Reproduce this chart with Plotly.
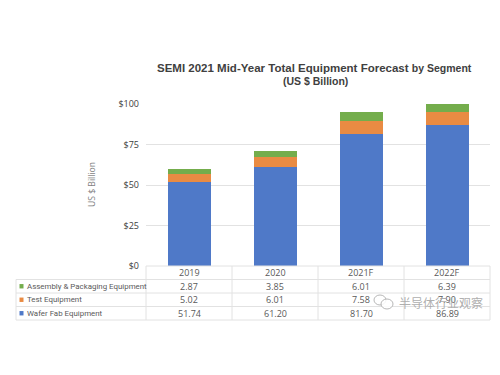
import plotly.graph_objects as go

years = ["2019", "2020", "2021F", "2022F"]
wafer = [51.74, 61.20, 81.70, 86.89]
test = [5.02, 6.01, 7.58, 7.90]
assembly = [2.87, 3.85, 6.01, 6.39]
wafer_label = ["51.74", "61.20", "81.70", "86.89"]
test_label = ["5.02", "6.01", "7.58", "7.90"]
assembly_label = ["2.87", "3.85", "6.01", "6.39"]
yticks = [0, 25, 50, 75, 100]
ytick_text = ["$0", "$25", "$50", "$75", "$100"]

W, H = 500, 375
L, R, T, B = 146, 490, 104, 266
TL = 16
rows = [266, 279.5, 293, 306.5, 320]
px = lambda v: v / W
py = lambda v: 1 - v / H

BLUE, ORANGE, GREEN = "#4F79C8", "#E98B43", "#74AD4C"
TXT = "#595959"
GRID = "#E2E2E2"

fig = go.Figure()
for name, vals, col in [("Wafer Fab Equipment", wafer, BLUE),
                        ("Test Equipment", test, ORANGE),
                        ("Assembly & Packaging Equipment", assembly, GREEN)]:
    fig.add_bar(x=years, y=vals, name=name, marker=dict(color=col, line=dict(width=0)), width=0.5)

shapes = []
ann = []
def line(x0, y0, x1, y1):
    shapes.append(dict(type="line", xref="paper", yref="paper", x0=px(x0), x1=px(x1),
                       y0=py(y0), y1=py(y1), line=dict(color=GRID, width=1)))
for i, y in enumerate(rows):
    line(L if i == 0 else TL, y, R, y)
for j in range(5):
    x = L + j * (R - L) / 4
    line(x, rows[0], x, rows[-1])
line(TL, rows[1], TL, rows[-1])

def cell(x, y, text, xref="x", anchor="center", size=9, color=TXT, family="Open Sans"):
    ann.append(dict(x=x, y=py(y), xref=xref, yref="paper", text=text, showarrow=False, xanchor=anchor,
                    yanchor="middle", font=dict(size=size, color=color, family=family)))

row_y = [(rows[i] + rows[i + 1]) / 2 for i in range(4)]
for i, yr in enumerate(years):
    cell(i, row_y[0], yr)
    cell(i, row_y[1], assembly_label[i])
    cell(i, row_y[2], test_label[i])
    cell(i, row_y[3], wafer_label[i])

for y, label, col in [(row_y[1], "Assembly & Packaging Equipment", GREEN),
                      (row_y[2], "Test Equipment", ORANGE),
                      (row_y[3], "Wafer Fab Equipment", BLUE)]:
    shapes.append(dict(type="rect", xref="paper", yref="paper", x0=px(19.5), x1=px(23.5),
                       y0=py(y + 2.2), y1=py(y - 2.2), fillcolor=col, line=dict(width=0)))
    cell(px(24.5), y, label, xref="paper", anchor="left", size=7.9, family="Roboto")

# title
ann.append(dict(x=px(314), y=py(68), xref="paper", yref="paper", showarrow=False, yanchor="middle",
                text="<b>SEMI 2021 Mid-Year Total Equipment Forecast</b> <b style='font-size:10.5px'>by Segment</b>",
                font=dict(size=11.5, color="#404040", family="Liberation Sans")))
ann.append(dict(x=px(315), y=py(81), xref="paper", yref="paper", showarrow=False, yanchor="middle",
                text="<b>(US $ Billion)</b>", font=dict(size=10.5, color="#404040", family="Liberation Sans")))
# y axis title
ann.append(dict(x=px(84), y=py(185), xref="paper", yref="paper", showarrow=False, textangle=-90,
                yanchor="middle", text="US $ Billion", font=dict(size=8.6, color="#7F7F7F", family="Open Sans")))
# watermark
for cx, cy, rx, ry in [(380, 300, 6, 5), (387, 304, 6, 5)]:
    shapes.append(dict(type="circle", xref="paper", yref="paper", x0=px(cx - rx), x1=px(cx + rx),
                       y0=py(cy + ry), y1=py(cy - ry), fillcolor="rgba(255,255,255,0.85)",
                       line=dict(color="rgba(175,175,175,0.9)", width=1)))
ann.append(dict(x=px(397), y=py(302), xref="paper", yref="paper", showarrow=False, xanchor="left", yanchor="middle",
                text="半导体行业观察", font=dict(size=12, color="rgba(165,165,165,0.9)", family="Noto Sans CJK SC")))

fig.update_layout(
    width=W, height=H, autosize=False, barmode="stack", showlegend=False,
    margin=dict(l=0, r=0, t=0, b=0, autoexpand=False), paper_bgcolor="white", plot_bgcolor="white",
    shapes=shapes, annotations=ann,
    xaxis=dict(domain=[px(L), px(R)], type="category", categoryorder="array", categoryarray=years,
               showticklabels=False, ticks="", showgrid=False, zeroline=False, range=[-0.5, 3.5],
               automargin=False),
    yaxis=dict(domain=[py(B), py(T)], range=[0, 100], tickvals=yticks, ticktext=ytick_text,
               showgrid=True, gridcolor=GRID, gridwidth=1, zeroline=False, ticks="", automargin=False,
               tickfont=dict(size=9, color="#404040", family="Open Sans"), ticklabelstandoff=6),
)
fig.write_html("out.html", config={"displayModeBar": False, "responsive": False},
               post_script="document.body.style.margin='0';document.documentElement.style.overflow='hidden';")
